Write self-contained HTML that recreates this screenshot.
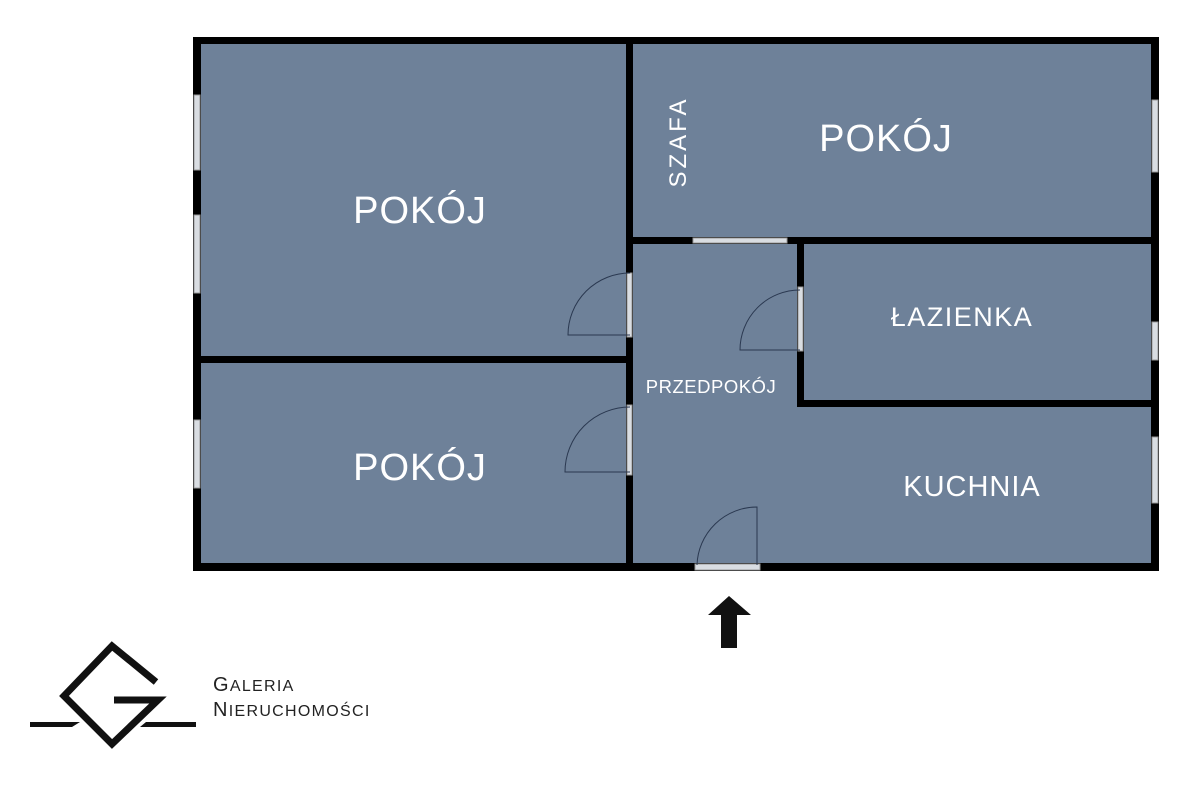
<!DOCTYPE html>
<html><head><meta charset="utf-8"><style>
html,body{margin:0;padding:0;background:#fff;width:1200px;height:800px;overflow:hidden}
</style></head><body>
<svg width="1200" height="800" viewBox="0 0 1200 800" xmlns="http://www.w3.org/2000/svg">
<rect x="193" y="37" width="966" height="534" fill="#6e8199"/>
<g fill="#000">
<rect x="193" y="37" width="966" height="7"/>
<rect x="193" y="563" width="966" height="8"/>
<rect x="193" y="37" width="8" height="534"/>
<rect x="1151" y="37" width="8" height="534"/>
<rect x="626" y="37" width="7" height="534"/>
<rect x="193" y="356" width="440" height="7"/>
<rect x="626" y="237" width="533" height="7"/>
<rect x="797" y="237" width="7" height="170"/>
<rect x="797" y="400" width="362" height="7"/>
</g>
<g fill="#d9dde2" stroke="#999" stroke-width="1">
<rect x="194" y="95" width="6" height="75"/>
<rect x="194" y="215" width="6" height="78"/>
<rect x="194" y="420" width="6" height="68"/>
<rect x="1152" y="100" width="6" height="72"/>
<rect x="1152" y="322" width="6" height="38"/>
<rect x="1152" y="437" width="6" height="66"/>
<rect x="693" y="238" width="94" height="5"/>
<rect x="627" y="273" width="5" height="64"/>
<rect x="627" y="405" width="5" height="70"/>
<rect x="798" y="287" width="5" height="64"/>
<rect x="695" y="564" width="65" height="6"/>
</g>
<g fill="none" stroke="#2a3850" stroke-width="1">
<path d="M630 335 L568 335 A62 62 0 0 1 630 273"/>
<path d="M630 472 L565 472 A65 65 0 0 1 630 407"/>
<path d="M800 350 L740 350 A60 60 0 0 1 800 290"/>
<path d="M757 565 L757 507 A60 60 0 0 0 697 565"/>
</g>
<g fill="#fff" font-family="Liberation Sans, sans-serif" text-anchor="middle">
<text x="420" y="223" font-size="38" letter-spacing="1">POKÓJ</text>
<text x="420" y="480" font-size="38" letter-spacing="1">POKÓJ</text>
<text x="886" y="151" font-size="38" letter-spacing="1">POKÓJ</text>
<text x="962" y="326" font-size="27" letter-spacing="1.5">ŁAZIENKA</text>
<text x="972" y="496" font-size="29" letter-spacing="1">KUCHNIA</text>
<text x="711" y="393" font-size="18.5" letter-spacing="0.5">PRZEDPOKÓJ</text>
<text transform="translate(686,142) rotate(-90)" font-size="24" letter-spacing="3">SZAFA</text>
</g>
<polygon points="729,596 751,615 737,615 737,648 721,648 721,615 708,615" fill="#111"/>
<g fill="none" stroke="#111" stroke-width="7">
<path d="M156 682 L112 646 L64 696 L112 744 L158 700 L114 700"/>
</g>
<polygon points="30,722 80,722 72,727 30,727" fill="#111"/>
<polygon points="146,722 196,722 196,727 140,727" fill="#111"/>
<g fill="#222" font-family="Liberation Sans, sans-serif" font-size="20" letter-spacing="1.3">
<text x="213" y="691">G<tspan font-size="16">ALERIA</tspan></text>
<text x="213" y="716">N<tspan font-size="16">IERUCHOMOŚCI</tspan></text>
</g>
</svg>
</body></html>
